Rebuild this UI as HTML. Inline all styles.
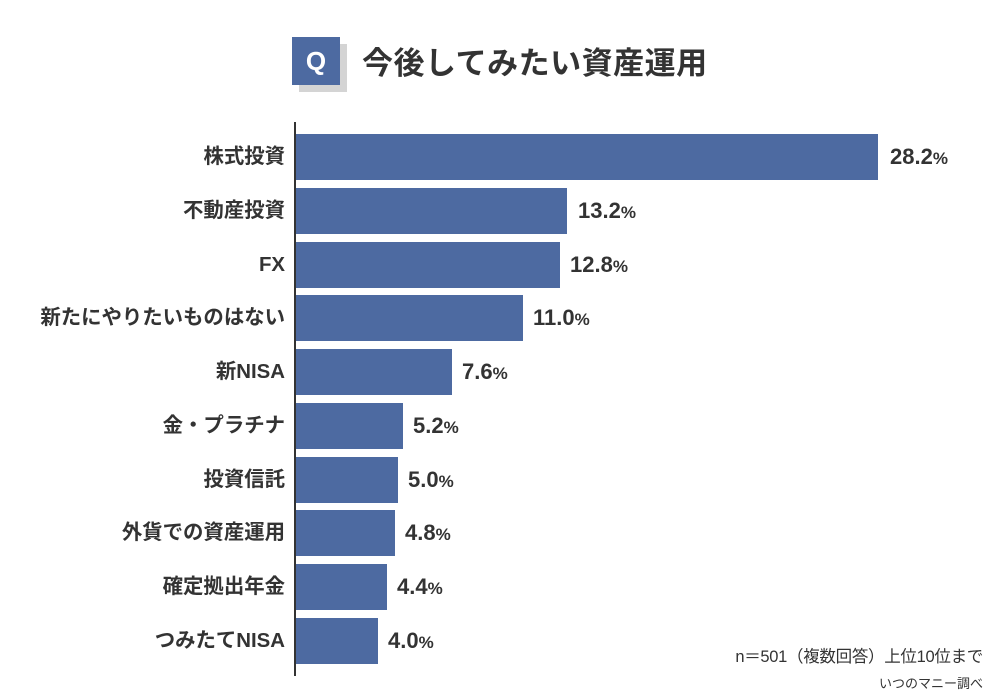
<!DOCTYPE html><html><head><meta charset="utf-8"><style>
body{margin:0;width:1000px;height:700px;background:#fff;position:relative;overflow:hidden;font-family:"Liberation Sans","Noto Sans CJK JP",sans-serif;color:#333}
.a{position:absolute}
.bar{position:absolute;left:296px;height:46px;background:#4d6aa1}
.cat{position:absolute;right:715px;font-size:20.4px;font-weight:bold;line-height:46px;white-space:nowrap}
.v{position:absolute;font-size:22px;font-weight:bold;line-height:46px}
.v small{font-size:17px}
</style></head><body>
<div class="a" style="left:299px;top:44px;width:48px;height:48px;background:#d4d4d4"></div>
<div class="a" style="left:292px;top:37px;width:48px;height:48px;background:#4d6aa1;color:#fff;font-size:26px;font-weight:bold;text-align:center;line-height:48px">Q</div>
<div class="a" style="left:362px;top:44px;font-size:31px;font-weight:bold;line-height:40px;letter-spacing:0.5px">今後してみたい資産運用</div>
<div class="a" style="left:294px;top:122px;width:2px;height:554px;background:#333"></div>

<div class="bar" style="top:134px;width:582px"></div><div class="cat" style="top:134px">株式投資</div><div class="v" style="left:890px;top:134px">28.2<small>%</small></div>
<div class="bar" style="top:188px;width:271px"></div><div class="cat" style="top:188px">不動産投資</div><div class="v" style="left:578px;top:188px">13.2<small>%</small></div>
<div class="bar" style="top:242px;width:264px"></div><div class="cat" style="top:242px">FX</div><div class="v" style="left:570px;top:242px">12.8<small>%</small></div>
<div class="bar" style="top:295px;width:227px"></div><div class="cat" style="top:295px">新たにやりたいものはない</div><div class="v" style="left:533px;top:295px">11.0<small>%</small></div>
<div class="bar" style="top:349px;width:156px"></div><div class="cat" style="top:349px">新NISA</div><div class="v" style="left:462px;top:349px">7.6<small>%</small></div>
<div class="bar" style="top:403px;width:107px"></div><div class="cat" style="top:403px">金・プラチナ</div><div class="v" style="left:413px;top:403px">5.2<small>%</small></div>
<div class="bar" style="top:457px;width:102px"></div><div class="cat" style="top:457px">投資信託</div><div class="v" style="left:408px;top:457px">5.0<small>%</small></div>
<div class="bar" style="top:510px;width:99px"></div><div class="cat" style="top:510px">外貨での資産運用</div><div class="v" style="left:405px;top:510px">4.8<small>%</small></div>
<div class="bar" style="top:564px;width:91px"></div><div class="cat" style="top:564px">確定拠出年金</div><div class="v" style="left:397px;top:564px">4.4<small>%</small></div>
<div class="bar" style="top:618px;width:82px"></div><div class="cat" style="top:618px">つみたてNISA</div><div class="v" style="left:388px;top:618px">4.0<small>%</small></div>

<div class="a" style="right:17px;top:643px;font-size:16.5px;white-space:nowrap;letter-spacing:-0.3px">n＝501（複数回答）上位10位まで</div>
<div class="a" style="right:17px;top:673px;font-size:13px;white-space:nowrap">いつのマニー調べ</div>
</body></html>
